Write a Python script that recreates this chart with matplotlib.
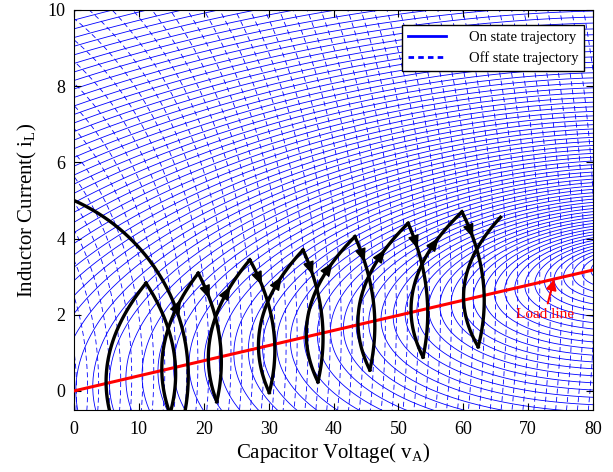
import matplotlib

matplotlib.use("Agg")
import matplotlib.pyplot as plt
import numpy as np
from matplotlib.lines import Line2D

# circuit model: C dv/dt = i - v/R, L di/dt = Vs - v  (time scaled by C)
R_LOAD = 25.2
V_ON, A_ON = 85.0, 1 / 190        # on state source, C/L
V_OFF, A_OFF = -20.0, 1 / 15      # off state source, C/L
# first off arc from (0, 5): unloaded swing about (V_START, I_START)
V_START, I_START, A_START = -12.0, 0.39, 0.029
START = (0.0, 5.0)

# switching points of the black trajectory
V_BOTTOM = [6.15, 14.8, 22.0, 30.1, 37.6, 45.6, 53.8, 62.3]
I_BOTTOM = [-0.9, -0.6, -0.28, -0.04, 0.24, 0.55, 0.89, 1.16]
V_PEAK = [11.1, 19.15, 27.1, 35.3, 43.3, 51.5, 59.8]
I_PEAK = [2.83, 3.09, 3.44, 3.70, 4.05, 4.40, 4.70]
V_END, I_END = 65.75, 4.56

LOAD_LABEL = (72.6, 2.02)
LOAD_TIP = (74.0, 2.93)

BLUE, RED = "#0000ff", "#ff0000"

plt.rcParams["font.family"] = "Liberation Serif"
plt.rcParams["mathtext.fontset"] = "custom"
plt.rcParams["mathtext.rm"] = "Liberation Serif"


def flow(vs, a):
    return lambda v, i: (i - v / R_LOAD, a * (vs - v))


def integrate(f, v, i, dt, steps):
    vv, ii = [v], [i]
    for _ in range(steps):
        k1 = f(v, i)
        k2 = f(v + dt / 2 * k1[0], i + dt / 2 * k1[1])
        k3 = f(v + dt / 2 * k2[0], i + dt / 2 * k2[1])
        k4 = f(v + dt * k3[0], i + dt * k3[1])
        v = v + dt / 6 * (k1[0] + 2 * k2[0] + 2 * k3[0] + k4[0])
        i = i + dt / 6 * (k1[1] + 2 * k2[1] + 2 * k3[1] + k4[1])
        vv.append(v)
        ii.append(i)
    return np.array(vv), np.array(ii)


def seed_offsets(step, growth, stop):
    # distances from the equilibrium along the load line, a bit wider further out
    out, d = [], step
    while d < stop:
        out.append(d)
        d += step + growth * d
    return np.array(out)


def family(ax, vs, a, seeds, t_half, ls):
    f = flow(vs, a)
    n = 300
    vf, i_f = integrate(f, seeds, seeds / R_LOAD, t_half / n, n)
    vb, ib = integrate(f, seeds, seeds / R_LOAD, -t_half / n, n)
    v = np.vstack([vb[::-1], vf[1:]])
    i = np.vstack([ib[::-1], i_f[1:]])
    ax.plot(v, i, color=BLUE, lw=0.6, ls=ls, zorder=1)


def arc(v0, i0, v1, i1, n=120):
    # constant di/dt along one switching interval, vertical tangent on the load line
    i = np.linspace(i0, i1, n)
    u = i - i0
    bend = (i0 - v0 / R_LOAD) * u + u**2 / 2
    return v0 + bend * (v1 - v0) / bend[-1], i


def main():
    fig = plt.figure(figsize=(6.13, 4.72), dpi=100)
    ax = fig.add_axes([74 / 613, 62 / 472, 519 / 613, 400 / 472])

    family(ax, V_ON, A_ON, V_ON - seed_offsets(1.3, 0.016, 300), 50, "-")
    family(ax, V_OFF, A_OFF, V_OFF + seed_offsets(1.7, 0.0, 150), 14, (0, (6, 4)))

    lv = np.array([0.0, 80.0])
    ax.plot(lv, lv / R_LOAD, color=RED, lw=2.2, zorder=3)

    # first off arc
    swing = lambda v, i: (i - I_START, A_START * (V_START - v))
    sv, si = integrate(swing, START[0], START[1], 0.05, 2000)
    keep = np.argmax(si < -0.7) + 1
    ax.plot(sv[:keep], si[:keep], color="k", lw=2.4, zorder=4)

    pv = [x for pair in zip(V_BOTTOM, V_PEAK) for x in pair] + [V_BOTTOM[-1], V_END]
    pi = [x for pair in zip(I_BOTTOM, I_PEAK) for x in pair] + [I_BOTTOM[-1], I_END]
    nseg = len(pv) - 1
    for j in range(nseg):
        v, i = arc(pv[j], pi[j], pv[j + 1], pi[j + 1])
        ax.plot(v, i, color="k", lw=2.4, zorder=4)
        if 2 <= j < nseg - 1:
            top = max(pi[j], pi[j + 1])
            k = int(np.argmin(np.abs(i - (top - 0.68))))
            ax.annotate("", xy=(v[k], i[k]), xytext=(v[k - 8], i[k - 8]),
                        arrowprops=dict(arrowstyle="-|>,head_length=0.6,head_width=0.24",
                                        color="k", lw=1, mutation_scale=14,
                                        shrinkA=0, shrinkB=0), zorder=5)

    ax.annotate("Load line", xy=LOAD_TIP, xytext=LOAD_LABEL, color=RED, fontsize=11,
                ha="center", va="center", zorder=6,
                arrowprops=dict(arrowstyle="-|>,head_length=0.6,head_width=0.3",
                                color=RED, lw=1.5, mutation_scale=10,
                                shrinkA=1, shrinkB=0))

    ax.set_xlim(0, 80)
    ax.set_ylim(-0.5, 10)
    ax.set_xticks(np.arange(0, 81, 10))
    ax.set_yticks(np.arange(0, 11, 2))
    ax.tick_params(direction="in", top=True, right=True, labelsize=13, length=5)
    ax.tick_params(axis="x", pad=8)
    ax.tick_params(axis="y", pad=6)
    ax.set_xlabel(r"Capacitor Voltage( $\mathrm{v}_{\mathrm{A}}$)", fontsize=15, labelpad=2)
    ax.set_ylabel(r"Inductor Current( $\mathrm{i}_{\mathrm{L}}$)", fontsize=15, labelpad=6)

    handles = [Line2D([], [], color=BLUE, lw=2),
               Line2D([], [], color=BLUE, lw=2, ls=(0, (2, 1.5)))]
    leg = ax.legend(handles, ["On state trajectory", "Off state trajectory"],
                    loc="upper right", bbox_to_anchor=(0.983, 0.9625), fontsize=10.5,
                    handlelength=2.6, handletextpad=1.6, fancybox=False,
                    framealpha=1, edgecolor="k", borderaxespad=0)
    leg.get_frame().set_linewidth(1)
    leg.set_zorder(7)

    fig.savefig("out.png", dpi=100)


if __name__ == "__main__":
    main()
